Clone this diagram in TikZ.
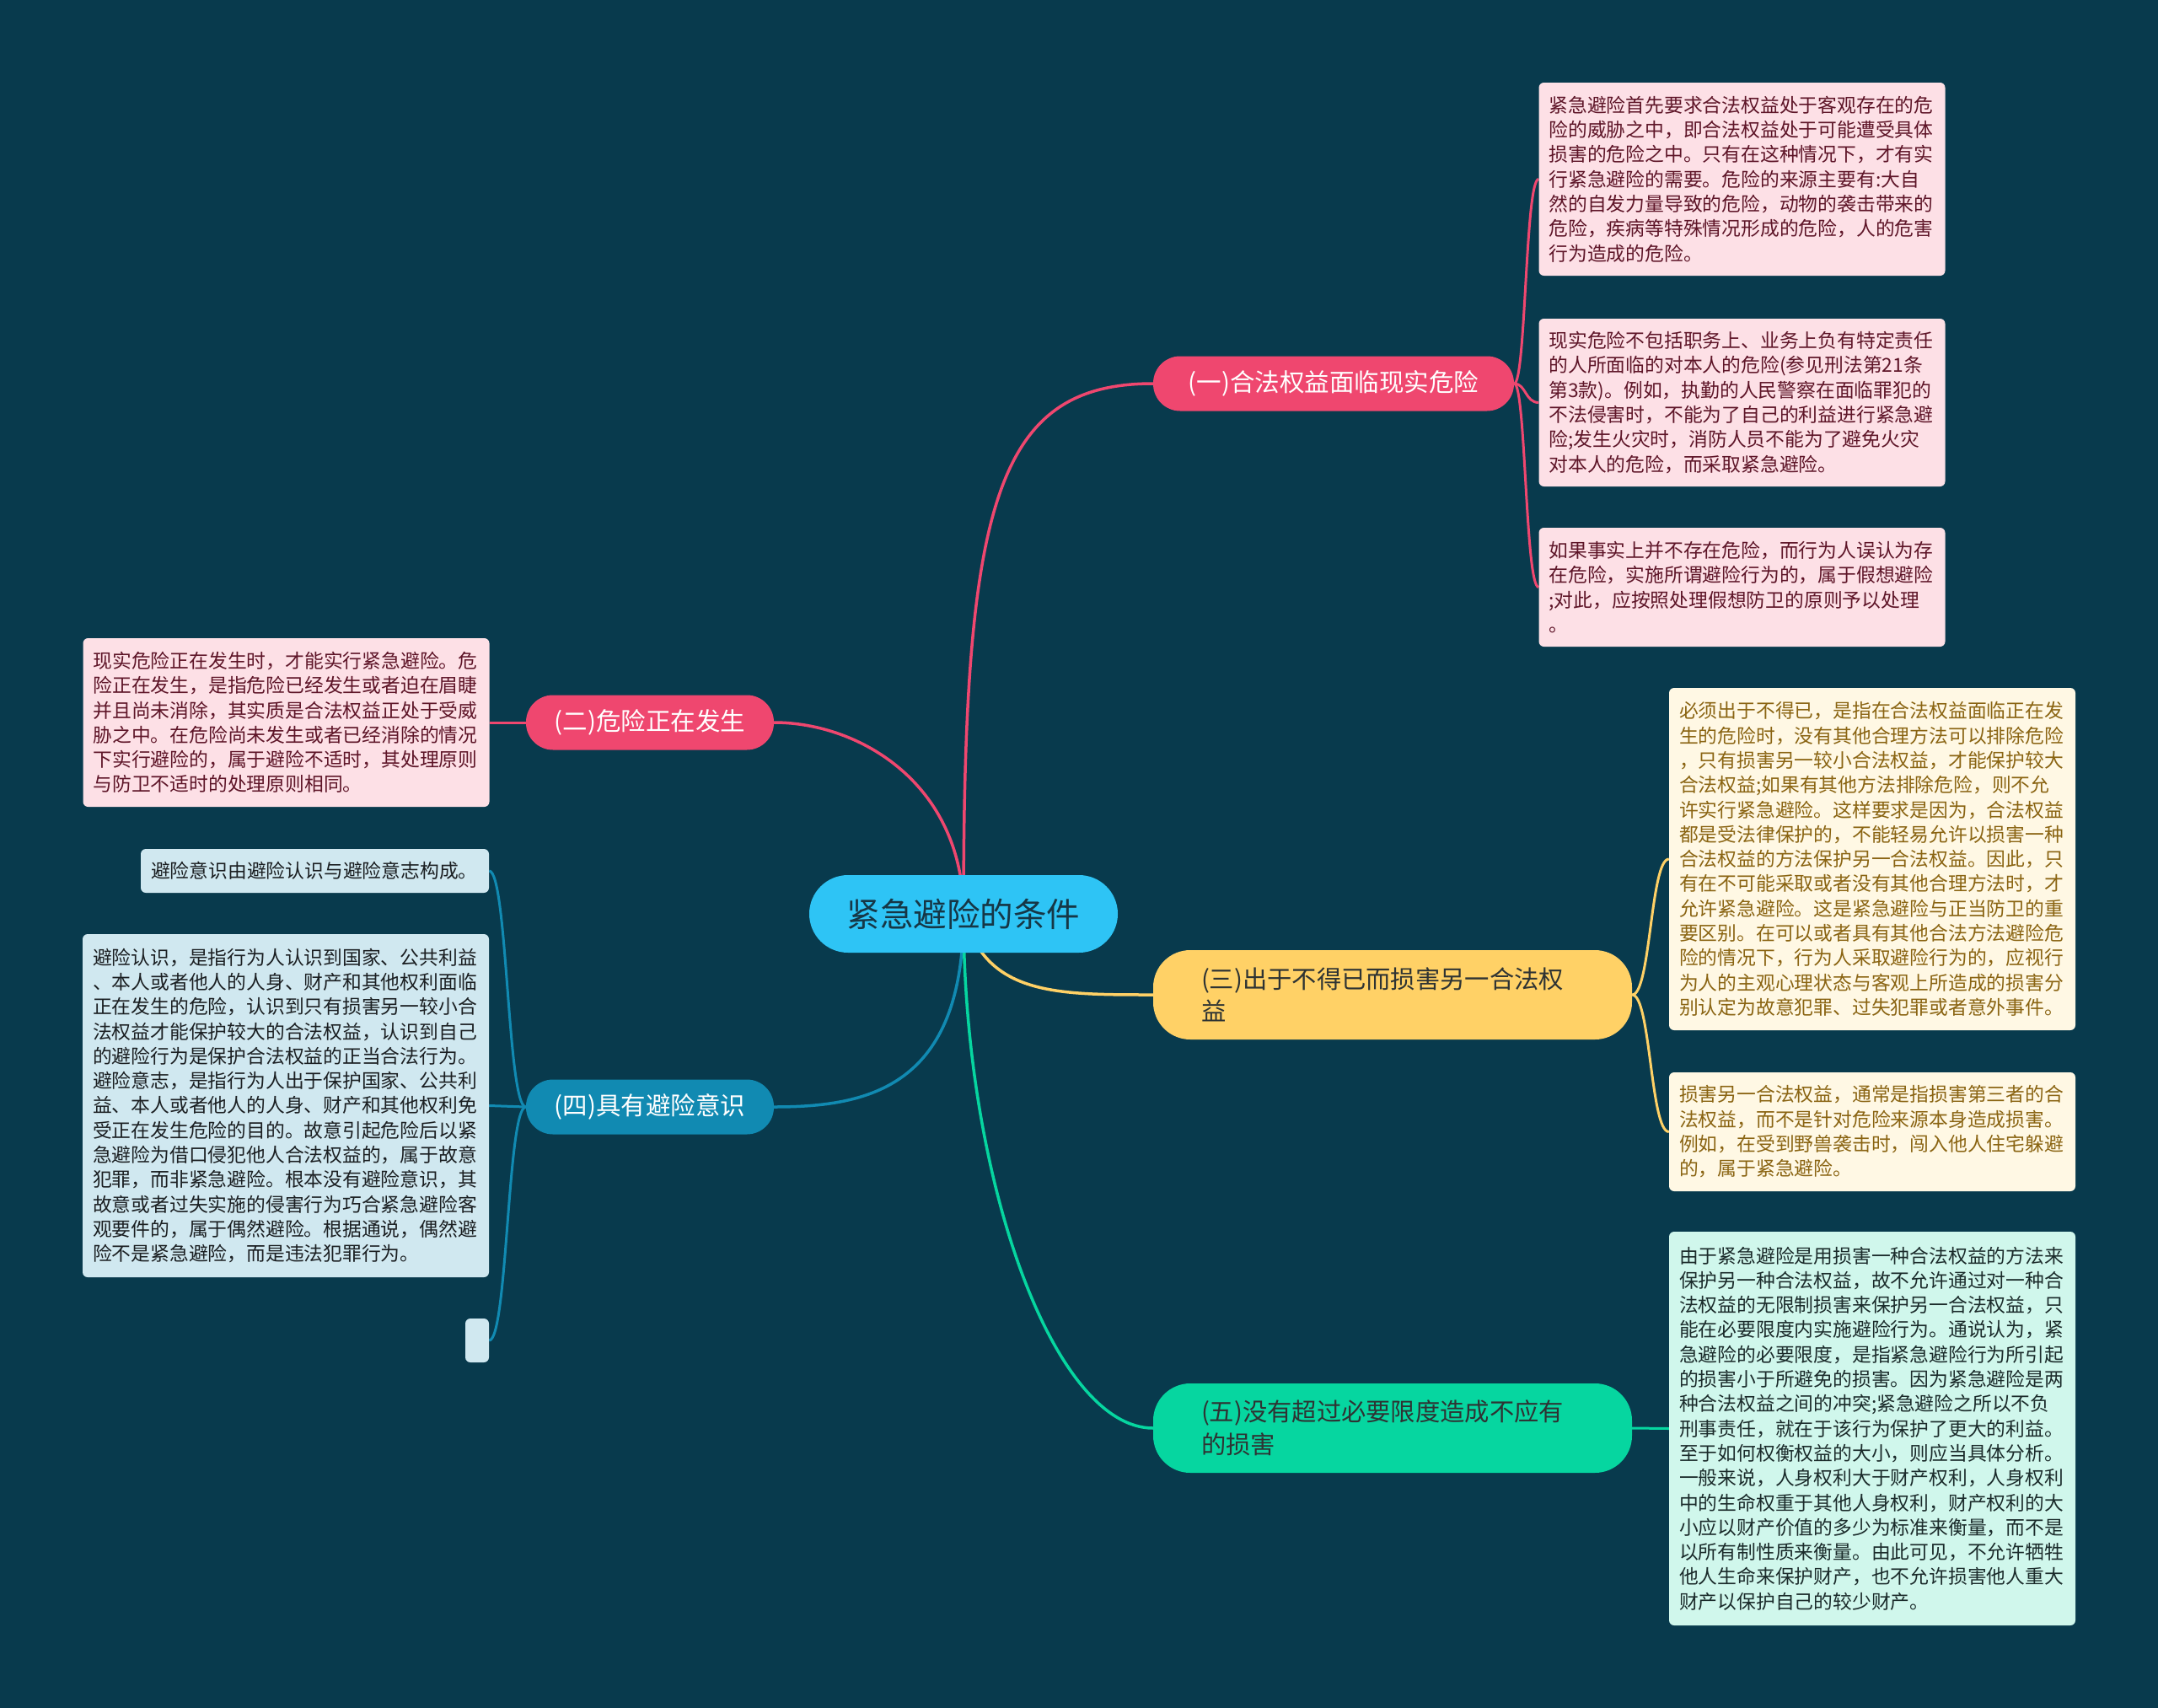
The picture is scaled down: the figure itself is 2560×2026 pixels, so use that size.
\documentclass[tikz,border=0pt]{standalone}
\usepackage{fontspec}
\setmainfont{Noto Sans CJK SC}
\definecolor{bgcol}{HTML}{083A4D}
\definecolor{centerfill}{HTML}{2EC4F5}
\definecolor{centertext}{HTML}{163746}
\definecolor{pinkc}{HTML}{EF476F}
\definecolor{yellowc}{HTML}{FFD166}
\definecolor{greenc}{HTML}{06D6A0}
\definecolor{bluec}{HTML}{118AB2}
\definecolor{pinkfill}{HTML}{FDE0E6}
\definecolor{pinktext}{HTML}{5E1528}
\definecolor{yellowfill}{HTML}{FFF8E4}
\definecolor{yellowtext}{HTML}{8A6412}
\definecolor{greenfill}{HTML}{D0F7EC}
\definecolor{greentext}{HTML}{1B2B2B}
\definecolor{bluefill}{HTML}{D0E8F0}
\definecolor{bluetext}{HTML}{1B1F22}
\definecolor{darkbranch}{HTML}{2E3333}
\pgfdeclarelayer{back}
\pgfdeclarelayer{lines}
\pgfsetlayers{back,lines,main}
\tikzset{
  detail/.style={rounded corners=6pt, inner xsep=12pt, inner ysep=0pt, align=left,
    text width=458pt, font=\fontsize{22.8}{29.3}\selectfont},
  pinkbox/.style={detail, fill=pinkfill, text=pinktext},
  yellowbox/.style={detail, fill=yellowfill, text=yellowtext},
  greenbox/.style={detail, fill=greenfill, text=greentext},
  bluebox/.style={detail, fill=bluefill, text=bluetext},
  branch/.style={rounded corners=32pt, minimum height=65pt, inner sep=0pt,
    font=\fontsize{29.5}{39}\selectfont},
  branchtwo/.style={rounded corners=44pt, minimum height=106pt, inner xsep=57pt, inner ysep=0pt,
    text width=454pt, align=left, font=\fontsize{29.3}{38.5}\selectfont},
  mainline/.style={line width=3.5pt},
  subline/.style={line width=3pt},
}
\begin{document}
\begin{tikzpicture}[x=1pt,y=-1pt]
\useasboundingbox (0,0) rectangle (2560,2026);
\begin{pgfonlayer}{back}
\fill[bgcol] (0,0) rectangle (2560,2026);
\end{pgfonlayer}

% center
\node[fill=centerfill, text=centertext, rounded corners=46pt, minimum width=366pt,
  minimum height=92pt, inner sep=0pt, font=\fontsize{39.5}{44}\selectfont] (c) at (1143,1084) {紧急避险的条件};

% branches
\node[branch, fill=pinkc, text=white, minimum width=428pt] (b1) at (1582,455) {(一)合法权益面临现实危险};
\node[branch, fill=pinkc, text=white, minimum width=294pt] (b2) at (771,857) {(二)危险正在发生};
\node[branchtwo, fill=yellowc, text=darkbranch] (b3) at (1652,1180) {(三)出于不得已而损害另一合法权\\益};
\node[branch, fill=bluec, text=white, minimum width=294pt] (b4) at (771,1313) {(四)具有避险意识};
\node[branchtwo, fill=greenc, text=darkbranch] (b5) at (1652,1694) {(五)没有超过必要限度造成不应有\\的损害};

% details of (一)
\node[pinkbox, minimum height=229pt] (a1) at (2066.5,212.5) {紧急避险首先要求合法权益处于客观存在的危\\险的威胁之中，即合法权益处于可能遭受具体\\损害的危险之中。只有在这种情况下，才有实\\行紧急避险的需要。危险的来源主要有:大自\\然的自发力量导致的危险，动物的袭击带来的\\危险，疾病等特殊情况形成的危险，人的危害\\行为造成的危险。};
\node[pinkbox, minimum height=199pt] (a2) at (2066.5,477.5) {现实危险不包括职务上、业务上负有特定责任\\的人所面临的对本人的危险(参见刑法第21条\\第3款)。例如，执勤的人民警察在面临罪犯的\\不法侵害时，不能为了自己的利益进行紧急避\\险;发生火灾时，消防人员不能为了避免火灾\\对本人的危险，而采取紧急避险。};
\node[pinkbox, minimum height=141pt] (a3) at (2066.5,696.5) {如果事实上并不存在危险，而行为人误认为存\\在危险，实施所谓避险行为的，属于假想避险\\;对此，应按照处理假想防卫的原则予以处理\\。};

% details of (三)
\node[yellowbox, minimum height=406pt] (y1) at (2221,1019) {必须出于不得已，是指在合法权益面临正在发\\生的危险时，没有其他合理方法可以排除危险\\，只有损害另一较小合法权益，才能保护较大\\合法权益;如果有其他方法排除危险，则不允\\许实行紧急避险。这样要求是因为，合法权益\\都是受法律保护的，不能轻易允许以损害一种\\合法权益的方法保护另一合法权益。因此，只\\有在不可能采取或者没有其他合理方法时，才\\允许紧急避险。这是紧急避险与正当防卫的重\\要区别。在可以或者具有其他合法方法避险危\\险的情况下，行为人采取避险行为的，应视行\\为人的主观心理状态与客观上所造成的损害分\\别认定为故意犯罪、过失犯罪或者意外事件。};
\node[yellowbox, minimum height=141pt] (y2) at (2221,1342.5) {损害另一合法权益，通常是指损害第三者的合\\法权益，而不是针对危险来源本身造成损害。\\例如，在受到野兽袭击时，闯入他人住宅躲避\\的，属于紧急避险。};

% details of (五)
\node[greenbox, minimum height=467pt] (g1) at (2221,1694.5) {由于紧急避险是用损害一种合法权益的方法来\\保护另一种合法权益，故不允许通过对一种合\\法权益的无限制损害来保护另一合法权益，只\\能在必要限度内实施避险行为。通说认为，紧\\急避险的必要限度，是指紧急避险行为所引起\\的损害小于所避免的损害。因为紧急避险是两\\种合法权益之间的冲突;紧急避险之所以不负\\刑事责任，就在于该行为保护了更大的利益。\\至于如何权衡权益的大小，则应当具体分析。\\一般来说，人身权利大于财产权利，人身权利\\中的生命权重于其他人身权利，财产权利的大\\小应以财产价值的多少为标准来衡量，而不是\\以所有制性质来衡量。由此可见，不允许牺牲\\他人生命来保护财产，也不允许损害他人重大\\财产以保护自己的较少财产。};

% details of (二)
\node[pinkbox, minimum height=200pt] (p1) at (339.5,857) {现实危险正在发生时，才能实行紧急避险。危\\险正在发生，是指危险已经发生或者迫在眉睫\\并且尚未消除，其实质是合法权益正处于受威\\胁之中。在危险尚未发生或者已经消除的情况\\下实行避险的，属于避险不适时，其处理原则\\与防卫不适时的处理原则相同。};

% details of (四)
\node[bluebox, text width=389pt, minimum height=52pt] (s1) at (373.5,1033) {避险意识由避险认识与避险意志构成。};
\node[bluebox, minimum height=407pt] (s2) at (339,1311.5) {避险认识，是指行为人认识到国家、公共利益\\、本人或者他人的人身、财产和其他权利面临\\正在发生的危险，认识到只有损害另一较小合\\法权益才能保护较大的合法权益，认识到自己\\的避险行为是保护合法权益的正当合法行为。\\避险意志，是指行为人出于保护国家、公共利\\益、本人或者他人的人身、财产和其他权利免\\受正在发生危险的目的。故意引起危险后以紧\\急避险为借口侵犯他人合法权益的，属于故意\\犯罪，而非紧急避险。根本没有避险意识，其\\故意或者过失实施的侵害行为巧合紧急避险客\\观要件的，属于偶然避险。根据通说，偶然避\\险不是紧急避险，而是违法犯罪行为。};
\node[fill=bluefill, rounded corners=6pt, minimum width=28pt, minimum height=52pt, inner sep=0pt] (s3) at (566,1590) {};

\begin{pgfonlayer}{lines}
% center to branches
\draw[mainline, pinkc] (c.center) .. controls (1143,600) and (1180,455) .. (b1.west);
\draw[mainline, pinkc] (c.center) .. controls (1143,930) and (1020,857) .. (b2.east);
\draw[mainline, yellowc] (c.center) .. controls (1170,1180) and (1250,1180) .. (b3.west);
\draw[mainline, bluec] (c.center) .. controls (1143,1290) and (1030,1313) .. (b4.east);
\draw[mainline, greenc] (c.center) .. controls (1143,1400) and (1250,1694) .. (b5.west);
% branch to details
\draw[subline, pinkc] (b1.east) .. controls +(14,0) and +(-16,0) .. (a1.west);
\draw[subline, pinkc] (b1.east) .. controls +(14,0) and +(-16,0) .. (a2.west);
\draw[subline, pinkc] (b1.east) .. controls +(14,0) and +(-16,0) .. (a3.west);
\draw[subline, yellowc] (b3.east) .. controls +(22,0) and +(-22,0) .. (y1.west);
\draw[subline, yellowc] (b3.east) .. controls +(22,0) and +(-22,0) .. (y2.west);
\draw[subline, greenc] (b5.east) -- (g1.west);
\draw[subline, pinkc] (b2.west) -- (p1.east);
\draw[subline, bluec] (b4.west) .. controls +(-22,0) and +(22,0) .. (s1.east);
\draw[subline, bluec] (b4.west) .. controls +(-22,0) and +(22,0) .. (s2.east);
\draw[subline, bluec] (b4.west) .. controls +(-22,0) and +(22,0) .. (s3.east);
\end{pgfonlayer}
\end{tikzpicture}
\end{document}
